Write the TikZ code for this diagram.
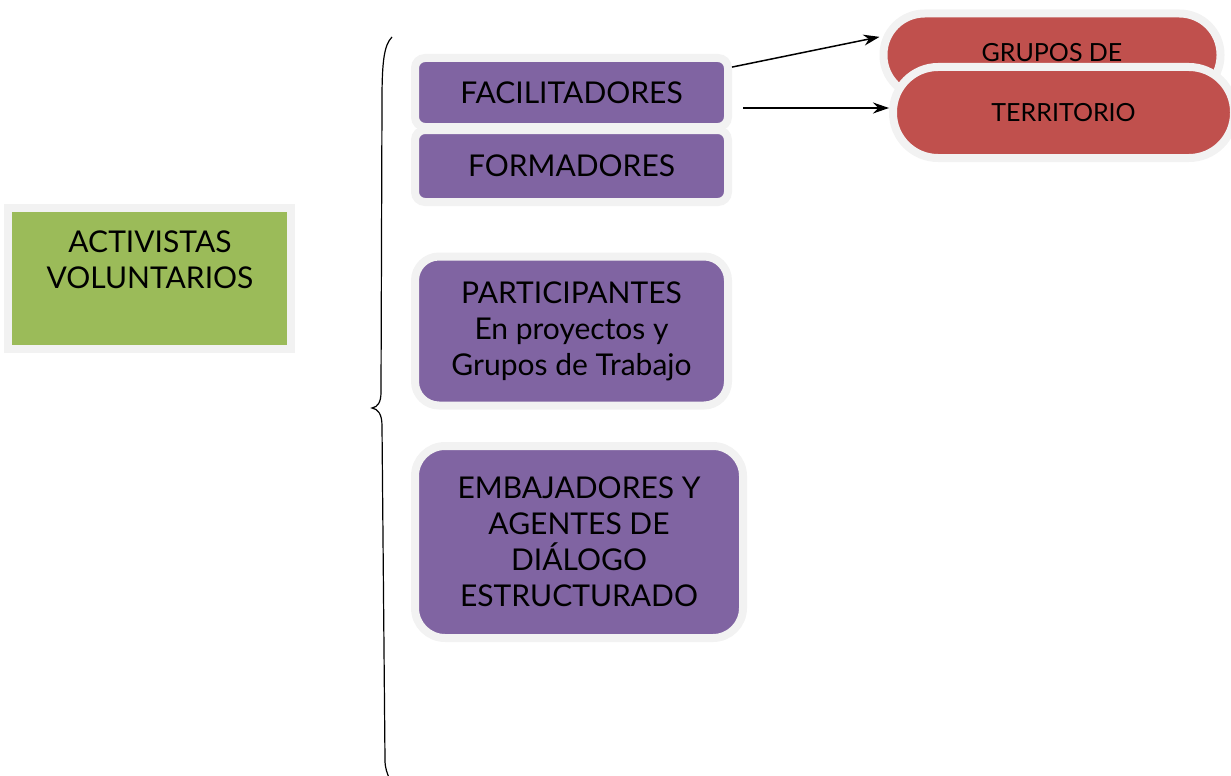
\documentclass[tikz,border=0pt]{standalone}
\usepackage{fontspec}
\setmainfont{Lato}
\usetikzlibrary{arrows.meta,calc}
\definecolor{vpurple}{HTML}{8064A2}
\definecolor{vred}{HTML}{C0504D}
\definecolor{vgreen}{HTML}{9BBB59}
\definecolor{vgray}{HTML}{F2F2F2}
\tikzset{
  boxbase/.style={draw=vgray, line width=8pt, inner sep=0pt, align=center, font=\fontsize{30}{36}\selectfont},
  purplebox/.style={boxbase, fill=vpurple},
  greenbox/.style={boxbase, fill=vgreen},
  pill/.style={draw=vgray, line width=8pt, fill=vred, inner sep=0pt, font=\fontsize{25}{30}\selectfont},
  conn/.style={-{Stealth[length=16pt,width=11pt]}, line width=1.5pt},
  bracestyle/.style={line width=1.2pt},
  lbl/.style={inner sep=0pt, align=center, font=\fontsize{30}{36}\selectfont}
}
\begin{document}
\begin{tikzpicture}[x=1pt,y=-1pt]
\useasboundingbox (0,0) rectangle (1231,776);
% green box
\node[greenbox, minimum width=283pt, minimum height=141pt] (act) at (149.5,278.5) {};
\node[lbl] (actlbl) at (150,260) {ACTIVISTAS\\VOLUNTARIOS};
% brace
\draw[bracestyle] (392,37) .. controls (384,45) and (382,62) .. (382,100) -- (381,392)
  .. controls (381,402) and (378,407) .. (372,408)
  .. controls (378,409) and (382,414) .. (382,426) -- (385,760)
  .. controls (385,768) and (387,773) .. (390,780);
% purple boxes
\node[purplebox, rounded corners=10pt, minimum width=313pt, minimum height=69pt] (facil) at (571.5,92.5) {FACILITADORES};
\node[purplebox, rounded corners=10pt, minimum width=313pt, minimum height=72pt] (form) at (571.5,166) {FORMADORES};
\node[purplebox, rounded corners=24pt, minimum width=313pt, minimum height=149pt] (part) at (571.5,331) {PARTICIPANTES\\En proyectos y\\Grupos de Trabajo};
\node[purplebox, rounded corners=30pt, minimum width=328pt, minimum height=192pt] (emb) at (579,542) {EMBAJADORES Y\\AGENTES DE\\DIÁLOGO\\ESTRUCTURADO};
% pills
\node[pill, rounded corners=41pt, minimum width=337pt, minimum height=83pt, text depth=6pt] (grupos) at (1052,55) {GRUPOS DE};
\node[pill, rounded corners=45pt, minimum width=341pt, minimum height=91pt] (terr) at (1063.5,112.5) {TERRITORIO};
% arrows
\coordinate (s2) at (743,108);
\draw[conn] (facil.9) -- (grupos.174);
\draw[conn] (s2) -- (s2 -| terr.west);
\end{tikzpicture}
\end{document}
